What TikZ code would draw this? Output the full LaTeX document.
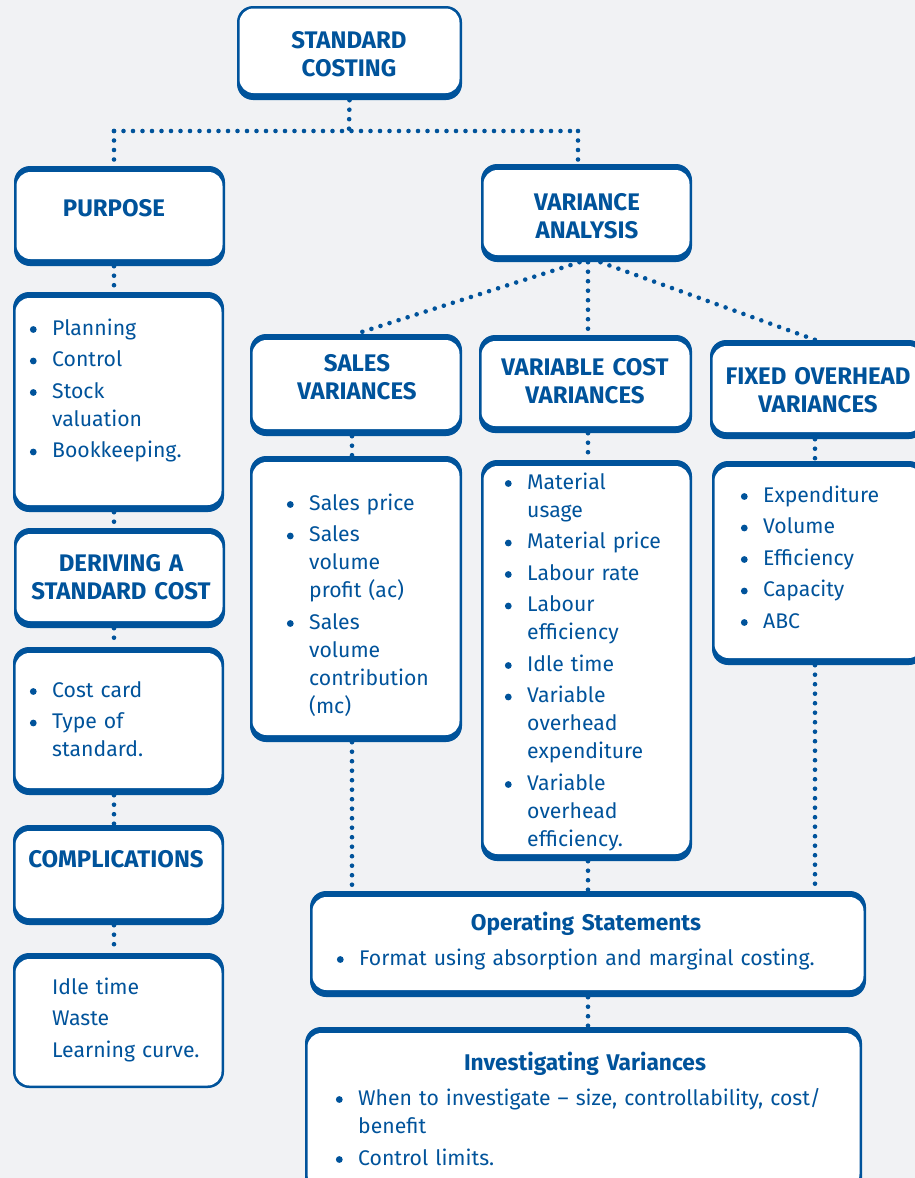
\documentclass[tikz,border=0pt]{standalone}
\usepackage{fontspec}
\setmainfont{Fira Sans}
\definecolor{kblue}{HTML}{00539B}
\definecolor{kbg}{HTML}{F1F2F4}
\pgfdeclarelayer{bg}
\pgfsetlayers{bg,main}
% round bullet hanging to the left of the item text
\newcommand{\kbul}{\leavevmode\llap{\tikz[baseline=-5.5pt]\fill[kblue] (0pt,0pt) circle (3.4pt);\hspace{15.5pt}}}
\begin{document}
\begin{tikzpicture}[x=1pt,y=-1pt,
  panel/.style 2 args={draw=none, fill=kblue, rounded corners=16pt, inner sep=0pt,
    path picture={\fill[white, rounded corners=14pt]
      ([shift={(2.5pt,-#1)}]path picture bounding box.north west) rectangle
      ([shift={(-2.5pt,#2)}]path picture bounding box.south east);}},
  hd/.style={font=\fontsize{24}{28}\selectfont\bfseries, text=kblue, align=center,
    anchor=base, inner sep=0pt, text width=220pt},
  hdm/.style={hd, font=\fontsize{22.7}{28}\selectfont\bfseries, text width=520pt},
  lst/.style={font=\fontsize{21.2}{28}\selectfont, text=kblue, align=left,
    anchor=base west, inner sep=0pt, text width=#1},
  link/.style={kblue, line width=4.6pt, line cap=round, dash pattern=on 0pt off 9.5pt}]

\useasboundingbox (0,0) rectangle (915,1178);

% boxes
\node[panel={2.5pt}{7pt}, minimum width=225pt, minimum height=94pt] (sc) at (349.5,53) {};
\node[panel={6pt}{7pt}, minimum width=211pt, minimum height=100pt] (pu) at (119.5,216) {};
\node[panel={6pt}{7pt}, minimum width=211pt, minimum height=98pt] (va) at (586.5,213) {};
\node[panel={6pt}{7pt}, minimum width=211pt, minimum height=220pt] (pl) at (118.5,402) {};
\node[panel={6pt}{7pt}, minimum width=211pt, minimum height=100pt] (der) at (119.5,578) {};
\node[panel={6pt}{7pt}, minimum width=211pt, minimum height=148pt] (cc) at (118.5,721) {};
\node[panel={6pt}{7pt}, minimum width=211pt, minimum height=100pt] (cm) at (118.5,875) {};
\node[panel={6pt}{2.5pt}, minimum width=211pt, minimum height=135pt] (it) at (118.5,1020.5) {};
\node[panel={6pt}{7pt}, minimum width=212pt, minimum height=102pt] (sv) at (356,385) {};
\node[panel={6pt}{7pt}, minimum width=212pt, minimum height=286pt] (sl) at (356,599) {};
\node[panel={6pt}{7pt}, minimum width=213pt, minimum height=98pt] (vc) at (585.5,384) {};
\node[panel={6pt}{7pt}, minimum width=211pt, minimum height=401pt] (vl) at (586.5,660.5) {};
\node[panel={6pt}{7pt}, minimum width=215pt, minimum height=99pt] (fo) at (817.5,389.5) {};
\node[panel={6pt}{7pt}, minimum width=213pt, minimum height=204pt] (fl) at (818.5,563) {};
\node[panel={6pt}{7pt}, minimum width=556pt, minimum height=106pt] (os) at (588,944) {};
\node[panel={6pt}{7pt}, minimum width=557pt, minimum height=168pt] (iv) at (583.5,1111) {};

% headings
\node[hd] (tsc) at (349,48) {STANDARD\\COSTING};
\node[hd] (tpu) at (114,216) {PURPOSE};
\node[hd] (tva) at (587,210) {VARIANCE\\ANALYSIS};
\node[hd] (tder) at (121,571) {DERIVING A\\STANDARD COST};
\node[hd] (tcm) at (116,867) {COMPLICATIONS};
\node[hd] (tsv) at (357,371) {SALES\\VARIANCES};
\node[hd] (tvc) at (585,375) {VARIABLE COST\\VARIANCES};
\node[hd] (tfo) at (818,384) {FIXED OVERHEAD\\VARIANCES};
\node[hdm] (tos) at (586,930) {Operating Statements};
\node[hdm] (tiv) at (585,1070) {Investigating Variances};

% lists
\node[lst=165pt] (lpl) at (52,335) {\kbul Planning\\[3.5pt]\kbul Control\\[3.5pt]\kbul Stock\\valuation\\[3.5pt]\kbul Bookkeeping.};
\node[lst=165pt] (lcc) at (52,697) {\kbul Cost card\\[3.5pt]\kbul Type of\\standard.};
\node[lst=165pt] (lit) at (52,994) {Idle time\\[3.5pt]Waste\\[3.5pt]Learning curve.};
\node[lst=145pt] (lsl) at (309,510) {\kbul Sales price\\[3.5pt]\kbul Sales\\volume\\profit (ac)\\[3.5pt]\kbul Sales\\volume\\contribution\\(mc)};
\node[lst=160pt] (lvl) at (527,489) {\kbul Material\\usage\\[3.5pt]\kbul Material price\\[3.5pt]\kbul Labour rate\\[3.5pt]\kbul Labour\\efficiency\\[3.5pt]\kbul Idle time\\[3.5pt]\kbul Variable\\overhead\\expenditure\\[3.5pt]\kbul Variable\\overhead\\efficiency.};
\node[lst=150pt] (lfl) at (763,502) {\kbul Expenditure\\[3.5pt]\kbul Volume\\[3.5pt]\kbul Efficiency\\[3.5pt]\kbul Capacity\\[3.5pt]\kbul ABC};
\node[lst=500pt] (los) at (359,965) {\kbul Format using absorption and marginal costing.};
\node[lst=500pt] (liv) at (358,1105) {\kbul When to investigate -- size, controllability, cost/\\benefit\\[4pt]\kbul Control limits.};

% connectors, drawn behind the boxes
\coordinate (jn) at (349,131);
\coordinate (jl) at (114,131);
\coordinate (jr) at (578,131);
\begin{pgfonlayer}{bg}
\fill[kbg] (0,0) rectangle (915,1178);
\draw[link] (sc.south) -- (jn);
\draw[link] (jl) -- (jr);
\draw[link] (jl) -- (jl |- pu.north);
\draw[link] (jr) -- (jr |- va.north);
\draw[link] (jl |- pu.south) -- (jl |- pl.north);
\draw[link] (jl |- pl.south) -- (jl |- der.north);
\draw[link] (jl |- der.south) -- (jl |- cc.north);
\draw[link] (jl |- cc.south) -- (jl |- cm.north);
\draw[link] (jl |- cm.south) -- (jl |- it.north);
\draw[link] ([xshift=-7pt]va.south) -- (sv.north);
\draw[link] ([xshift=1.5pt]va.south) -- ([xshift=2.5pt]vc.north);
\draw[link] ([xshift=14pt]va.south) -- ([xshift=-2.5pt]fo.north);
\draw[link] ([xshift=-4pt]sv.south) -- ([xshift=-4pt]sl.north);
\draw[link] ([xshift=2.5pt]vc.south) -- ([xshift=1.5pt]vl.north);
\draw[link] ([xshift=-2.5pt]fo.south) -- ([xshift=-3.5pt]fl.north);
\draw[link] ([xshift=-4pt]sl.south) -- ([xshift=-4pt]sl.south |- os.north);
\draw[link] ([xshift=1.5pt]vl.south) -- ([xshift=1.5pt]vl.south |- os.north);
\draw[link] ([xshift=-3.5pt]fl.south) -- ([xshift=-3.5pt]fl.south |- os.north);
\draw[link] (os.south) -- (os.south |- iv.north);
\end{pgfonlayer}
\end{tikzpicture}
\end{document}
